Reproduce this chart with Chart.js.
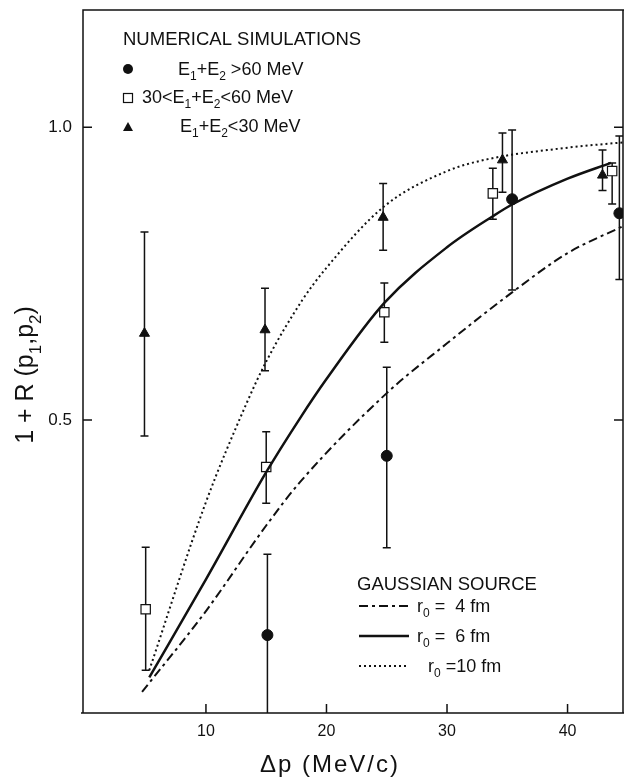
<!DOCTYPE html>
<html>
<head>
<meta charset="utf-8">
<script src="https://cdn.jsdelivr.net/npm/chart.js@4.4.1/dist/chart.umd.min.js"></script>
<style>
  body { margin: 0; background: #fff; }
  canvas { display: block; }
</style>
</head>
<body>
<canvas id="c" width="624" height="782"></canvas>
<script>
// ticks
const xTicks = [10, 20, 30, 40];
const yTicks = [0.5, 1.0];

// E1+E2 > 60 MeV (filled circles)
const hiX = [15.1, 25.0, 35.4, 44.3];
const hiY = [0.133, 0.439, 0.877, 0.853];
const hiLo = [-0.02, 0.282, 0.722, 0.74];
const hiHi = [0.271, 0.590, 0.995, 0.985];

// 30 < E1+E2 < 60 MeV (open squares)
const midX = [5.0, 15.0, 24.8, 33.8, 43.7];
const midY = [0.177, 0.42, 0.684, 0.887, 0.925];
const midLo = [0.073, 0.358, 0.633, 0.843, 0.869];
const midHi = [0.283, 0.48, 0.734, 0.93, 0.939];

// E1+E2 < 30 MeV (triangles)
const loX = [4.9, 14.9, 24.7, 34.6, 42.9];
const loY = [0.648, 0.654, 0.846, 0.944, 0.918];
const loLo = [0.473, 0.584, 0.79, 0.889, 0.892];
const loHi = [0.821, 0.725, 0.904, 0.99, 0.961];

// gaussian source curves
const r4X = [4.7, 10, 15, 17.8, 25, 30, 35.4, 40, 44.6];
const r4Y = [0.036, 0.174, 0.32, 0.394, 0.546, 0.631, 0.718, 0.785, 0.831];
const r6X = [5.3, 10, 15, 17.8, 20, 24.8, 30, 33.8, 35.4, 40, 43.6];
const r6Y = [0.061, 0.228, 0.411, 0.503, 0.57, 0.70, 0.795, 0.848, 0.868, 0.912, 0.939];
const r10X = [5.3, 10, 13.4, 15, 18, 20, 24.8, 30, 33.3, 40, 44.6];
const r10Y = [0.073, 0.36, 0.53, 0.60, 0.705, 0.76, 0.865, 0.925, 0.945, 0.965, 0.974];

const ink = '#111';
const face = '"Liberation Sans", Arial, sans-serif';
const pts = (xs, ys) => xs.map((x, i) => ({ x: x, y: ys[i] }));

// text with subscripts: runs = [[text, isSub], ...]
function drawRuns(ctx, runs, x, y, size) {
  let cx = x;
  runs.forEach(([t, sub]) => {
    ctx.font = (sub ? Math.round(size * 0.68) : size) + 'px ' + face;
    ctx.fillText(t, cx, sub ? y + size * 0.3 : y);
    cx += ctx.measureText(t).width;
  });
  return cx - x;
}
function runsWidth(ctx, runs, size) {
  let w = 0;
  runs.forEach(([t, sub]) => {
    ctx.font = (sub ? Math.round(size * 0.68) : size) + 'px ' + face;
    w += ctx.measureText(t).width;
  });
  return w;
}

const errorBars = {
  id: 'errorBars',
  beforeDatasetsDraw(chart) {
    const { ctx, chartArea: a, scales: { x, y } } = chart;
    ctx.save();
    ctx.beginPath();
    ctx.rect(a.left, a.top, a.right - a.left, a.bottom - a.top);
    ctx.clip();
    ctx.strokeStyle = ink;
    ctx.lineWidth = 1.5;
    chart.data.datasets.forEach(ds => {
      if (!ds.errLo) return;
      ds.data.forEach((p, i) => {
        const px = x.getPixelForValue(p.x);
        const t = y.getPixelForValue(ds.errHi[i]);
        const b = y.getPixelForValue(ds.errLo[i]);
        ctx.beginPath();
        ctx.moveTo(px, t); ctx.lineTo(px, b);
        ctx.moveTo(px - 4, t); ctx.lineTo(px + 4, t);
        ctx.moveTo(px - 4, b); ctx.lineTo(px + 4, b);
        ctx.stroke();
      });
    });
    ctx.restore();
  }
};

const frame = {
  id: 'frame',
  beforeDatasetsDraw(chart) {
    const { ctx, chartArea: a, scales: { x, y } } = chart;
    ctx.save();
    ctx.strokeStyle = ink;
    ctx.lineWidth = 1.5;
    ctx.beginPath();
    ctx.moveTo(a.left, a.bottom); ctx.lineTo(a.left, a.top); ctx.lineTo(a.right + 2, a.top);
    ctx.moveTo(a.left - 2, a.bottom); ctx.lineTo(a.right + 2, a.bottom);
    ctx.moveTo(a.right, a.top); ctx.lineTo(a.right, a.bottom);
    // inward ticks
    x.ticks.forEach(t => {
      const px = x.getPixelForValue(t.value);
      ctx.moveTo(px, a.bottom); ctx.lineTo(px, a.bottom - 9);
    });
    y.ticks.forEach(t => {
      const py = y.getPixelForValue(t.value);
      ctx.moveTo(a.left, py); ctx.lineTo(a.left + 9, py);
      ctx.moveTo(a.right, py); ctx.lineTo(a.right - 9, py);
    });
    ctx.stroke();
    ctx.restore();
  },
  afterDraw(chart) {
    const ctx = chart.ctx;
    ctx.save();
    ctx.fillStyle = ink;
    ctx.strokeStyle = ink;
    ctx.textAlign = 'left';
    ctx.textBaseline = 'alphabetic';

    // axis titles
    const xt = [['Δp (MeV/c)', false]];
    ctx.letterSpacing = '2px';
    const xw = runsWidth(ctx, xt, 24);
    drawRuns(ctx, xt, 330 - xw / 2, 772, 24);
    ctx.letterSpacing = '0px';

    const yt = [['1 + R (p', false], ['1', true], [',p', false], ['2', true], [')', false]];
    const yw = runsWidth(ctx, yt, 25);
    ctx.save();
    ctx.translate(33, 375 + yw / 2);
    ctx.rotate(-Math.PI / 2);
    drawRuns(ctx, yt, 0, 0, 25);
    ctx.restore();

    // numerical simulations legend
    ctx.font = '18.5px ' + face;
    ctx.fillText('NUMERICAL SIMULATIONS', 123, 45);
    ctx.beginPath(); ctx.arc(128, 69, 5, 0, Math.PI * 2); ctx.fill();
    drawRuns(ctx, [['E', false], ['1', true], ['+E', false], ['2', true], [' >60 MeV', false]], 178, 75, 18);
    ctx.lineWidth = 1.2;
    ctx.fillStyle = '#fff';
    ctx.fillRect(123.5, 93.5, 9, 9);
    ctx.strokeRect(123.5, 93.5, 9, 9);
    ctx.fillStyle = ink;
    drawRuns(ctx, [['30<E', false], ['1', true], ['+E', false], ['2', true], ['<60 MeV', false]], 142, 103, 18);
    ctx.beginPath(); ctx.moveTo(128, 122); ctx.lineTo(133, 131); ctx.lineTo(123, 131); ctx.closePath(); ctx.fill();
    drawRuns(ctx, [['E', false], ['1', true], ['+E', false], ['2', true], ['<30 MeV', false]], 180, 132, 18);

    // gaussian source legend
    ctx.font = '18.5px ' + face;
    ctx.fillText('GAUSSIAN SOURCE', 357, 590);
    const rows = [
      { y: 612, dash: [9, 4, 3, 4], w: 2, tx: 417, txt: ' =  4 fm' },
      { y: 642, dash: [], w: 2.5, tx: 417, txt: ' =  6 fm' },
      { y: 672, dash: [2, 3], w: 2, tx: 428, txt: ' =10 fm' }
    ];
    rows.forEach(r => {
      ctx.beginPath();
      ctx.setLineDash(r.dash);
      ctx.lineWidth = r.w;
      ctx.moveTo(359, r.y - 6); ctx.lineTo(409, r.y - 6);
      ctx.stroke();
      drawRuns(ctx, [['r', false], ['0', true], [r.txt, false]], r.tx, r.y, 18);
    });
    ctx.setLineDash([]);
    ctx.restore();
  }
};

const curve = (xs, ys, dash, w) => ({
  data: pts(xs, ys),
  showLine: true,
  borderColor: ink,
  borderWidth: w,
  borderDash: dash,
  pointRadius: 0,
  cubicInterpolationMode: 'monotone',
  fill: false
});

new Chart(document.getElementById('c'), {
  type: 'scatter',
  data: {
    datasets: [
      curve(r4X, r4Y, [9, 4, 3, 4], 2),
      curve(r6X, r6Y, [], 2.5),
      curve(r10X, r10Y, [2, 3], 2),
      {
        data: pts(hiX, hiY), errLo: hiLo, errHi: hiHi,
        pointStyle: 'circle', pointRadius: 5.5, backgroundColor: ink, borderColor: ink, borderWidth: 1
      },
      {
        data: pts(midX, midY), errLo: midLo, errHi: midHi,
        pointStyle: 'rect', pointRadius: 6.6, backgroundColor: '#fff', borderColor: ink, borderWidth: 1.2
      },
      {
        data: pts(loX, loY), errLo: loLo, errHi: loHi,
        pointStyle: 'triangle', pointRadius: 5.8, backgroundColor: ink, borderColor: ink, borderWidth: 1
      }
    ]
  },
  options: {
    responsive: false,
    animation: false,
    layout: { autoPadding: false, padding: { top: 10, right: 1, left: 0, bottom: 0 } },
    plugins: { legend: { display: false }, tooltip: { enabled: false } },
    scales: {
      x: {
        type: 'linear', min: -0.2, max: 44.6,
        grid: { display: false, drawTicks: false },
        border: { display: false },
        ticks: { color: ink, font: { family: face, size: 16 }, padding: 9 },
        afterBuildTicks: s => { s.ticks = xTicks.map(v => ({ value: v })); },
        afterFit: s => { s.height = 69; s.paddingLeft = 0; s.paddingRight = 0; }
      },
      y: {
        type: 'linear', min: 0, max: 1.2,
        grid: { display: false, drawTicks: false },
        border: { display: false },
        ticks: { color: ink, font: { family: face, size: 17 }, padding: 11, callback: v => v.toFixed(1) },
        afterBuildTicks: s => { s.ticks = yTicks.map(v => ({ value: v })); },
        afterFit: s => { s.width = 83; s.paddingTop = 0; s.paddingBottom = 0; }
      }
    }
  },
  plugins: [errorBars, frame]
});
</script>
</body>
</html>
